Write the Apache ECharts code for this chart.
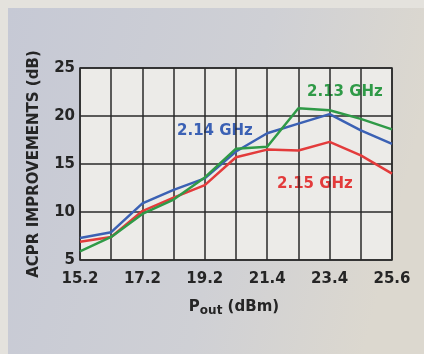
<!DOCTYPE html>
<html>
<head>
<meta charset="utf-8">
<script src="https://cdn.jsdelivr.net/npm/echarts@6/dist/echarts.min.js"></script>
<style>html,body{margin:0;padding:0;background:#e4e2dd;}#c{width:424px;height:354px;}</style>
</head>
<body>
<div id="c"></div>
<script>
const categories = ['15.2','16.2','17.2','18.2','19.2','20.3','21.4','22.4','23.4','24.5','25.6'];
const yTicks = [5, 10, 15, 20, 25];
const ghz213 = [5.9, 7.4, 9.8, 11.3, 13.6, 16.6, 16.8, 20.8, 20.6, 19.7, 18.6];
const ghz214 = [7.3, 7.9, 10.9, 12.3, 13.5, 16.3, 18.2, 19.2, 20.2, 18.5, 17.1];
const ghz215 = [6.9, 7.4, 10.1, 11.5, 12.8, 15.7, 16.5, 16.4, 17.3, 15.9, 14.0];
const seriesNames = ['2.13 GHz', '2.14 GHz', '2.15 GHz'];

const chart = echarts.init(document.getElementById('c'), null, {renderer: 'canvas'});
const font = '"DejaVu Sans", sans-serif';
const ink = '#252525';
const colors = ['#2f9a47', '#3b61b4', '#e33b3b'];
chart.setOption({
  animation: false,
  backgroundColor: 'transparent',
  graphic: [
    {type: 'rect', z: -10, shape: {x: 8, y: 8, width: 416, height: 346},
     style: {fill: new echarts.graphic.LinearGradient(0, 0, 1, 0.3, [
       {offset: 0, color: '#c6c9d5'}, {offset: 0.6, color: '#cfd0d5'}, {offset: 1, color: '#dcd8cf'}])}},
    {type: 'text', x: 177, y: 131, style: {text: seriesNames[1], fill: colors[1], font: 'bold 15px ' + font, textVerticalAlign: 'middle'}},
    {type: 'text', x: 307, y: 92, style: {text: seriesNames[0], fill: colors[0], font: 'bold 15px ' + font, textVerticalAlign: 'middle'}},
    {type: 'text', x: 277, y: 184, style: {text: seriesNames[2], fill: colors[2], font: 'bold 15px ' + font, textVerticalAlign: 'middle'}},
    {type: 'text', x: 234, y: 307, style: {
      textAlign: 'center', textVerticalAlign: 'middle',
      rich: {b: {font: 'bold 15px ' + font, fill: ink}, s: {font: 'bold 12px ' + font, fill: ink, padding: [8, 0, 0, 0]}},
      text: '{b|P}{s|out}{b| (dBm)}'}}
  ],
  grid: {left: 80, top: 68, width: 312, height: 192, show: true, backgroundColor: '#ecebe8', borderColor: '#2a2a2a', borderWidth: 1.5},
  xAxis: {
    type: 'category', data: categories, boundaryGap: false,
    axisLine: {show: false}, axisTick: {show: false},
    axisLabel: {interval: 1, color: ink, fontFamily: font, fontWeight: 'bold', fontSize: 15, margin: 12},
    splitLine: {show: true, interval: 0, lineStyle: {color: '#2a2a2a', width: 1.5}}
  },
  yAxis: {
    type: 'value', min: yTicks[0], max: yTicks[yTicks.length - 1], interval: 5,
    name: 'ACPR IMPROVEMENTS (dB)', nameLocation: 'middle', nameGap: 38,
    nameTextStyle: {color: ink, fontFamily: font, fontWeight: 'bold', fontSize: 15},
    axisLine: {show: false}, axisTick: {show: false},
    axisLabel: {color: ink, fontFamily: font, fontWeight: 'bold', fontSize: 15, margin: 5},
    splitLine: {show: true, lineStyle: {color: '#2a2a2a', width: 1.5}}
  },
  series: [
    {name: seriesNames[2], type: 'line', data: ghz215, symbol: 'none', lineStyle: {color: colors[2], width: 2.5}},
    {name: seriesNames[1], type: 'line', data: ghz214, symbol: 'none', lineStyle: {color: colors[1], width: 2.5}},
    {name: seriesNames[0], type: 'line', data: ghz213, symbol: 'none', lineStyle: {color: colors[0], width: 2.5}}
  ]
});
</script>
</body>
</html>
